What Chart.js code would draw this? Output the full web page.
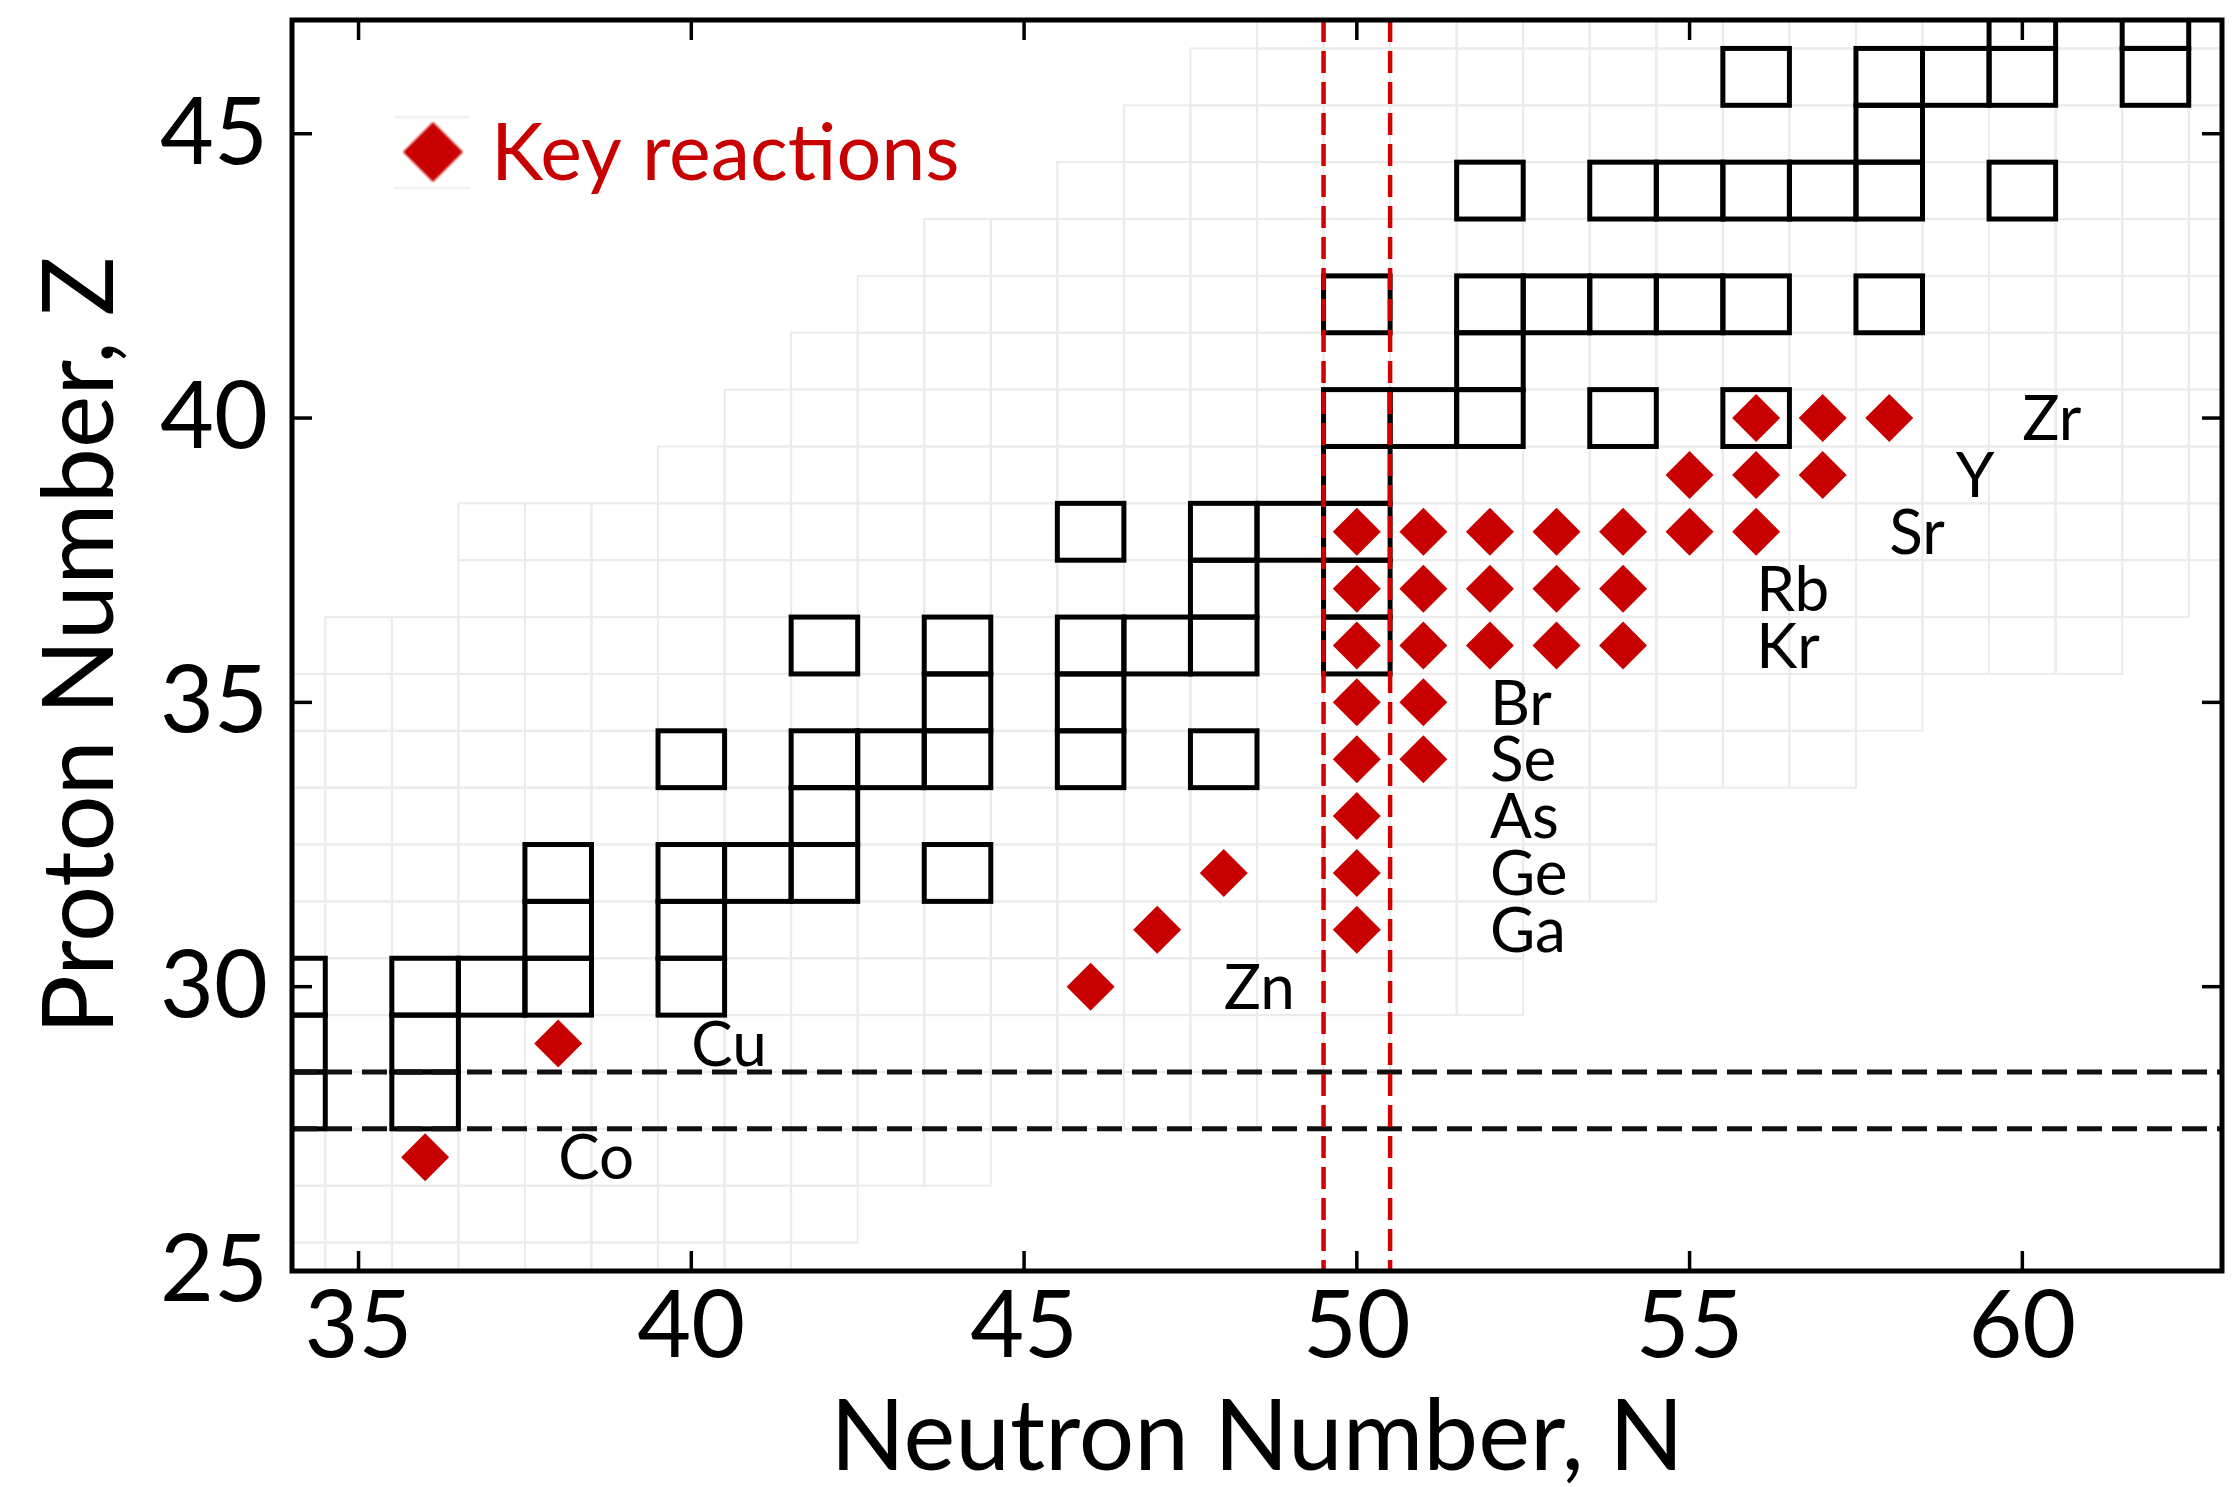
<!DOCTYPE html>
<html>
<head>
<meta charset="utf-8">
<title>Key reactions on the chart of nuclides</title>
<script src="https://cdn.jsdelivr.net/npm/chart.js@4.4.1/dist/chart.umd.min.js"></script>
<style>
  html, body { margin: 0; padding: 0; background: #fff; overflow: hidden; }
  #wrap { width: 2233px; height: 1487px; position: relative; }
  #chart { display: block; }
</style>
</head>
<body>
<div id="wrap"><canvas id="chart"></canvas></div>
<script>
// axis ticks
const xTicks = [35, 40, 45, 50, 55, 60];
const yTicks = [25, 30, 35, 40, 45];

// known nuclei (light grid), one N range per proton number
const gridZ    = [25, 26, 27, 28, 29, 30, 31, 32, 33, 34, 35, 36, 37, 38, 39, 40, 41, 42, 43, 44, 45, 46, 47];
const gridNmin = [33, 33, 33, 33, 33, 33, 33, 33, 33, 33, 33, 35, 37, 37, 40, 41, 42, 43, 44, 46, 47, 48, 49];
const gridNmax = [41, 42, 44, 48, 50, 52, 52, 54, 54, 57, 58, 61, 62, 64, 64, 64, 64, 64, 64, 64, 64, 64, 64];

// stable nuclei: neutron numbers for each proton number
const stableZ = [28, 29, 30, 31, 32, 33, 34, 35, 36, 37, 38, 39, 40, 41, 42, 44, 45, 46, 47];
const stableN = [
  [34, 36],
  [34, 36],
  [34, 36, 37, 38, 40],
  [38, 40],
  [38, 40, 41, 42, 44],
  [42],
  [40, 42, 43, 44, 46, 48],
  [44, 46],
  [42, 44, 46, 47, 48, 50],
  [48, 50],
  [46, 48, 49, 50],
  [50],
  [50, 51, 52, 54, 56],
  [52],
  [50, 52, 53, 54, 55, 56, 58],
  [52, 54, 55, 56, 57, 58, 60],
  [58],
  [56, 58, 59, 60, 62],
  [60, 62]
];

// key reactions
const keyN = [36, 38, 46, 47, 48, 50, 50, 50, 50, 51, 50, 51, 50, 51, 52, 53, 54, 50, 51, 52, 53, 54,
              50, 51, 52, 53, 54, 55, 56, 55, 56, 57, 56, 57, 58];
const keyZ = [27, 29, 30, 31, 32, 31, 32, 33, 34, 34, 35, 35, 36, 36, 36, 36, 36, 37, 37, 37, 37, 37,
              38, 38, 38, 38, 38, 38, 38, 39, 39, 39, 40, 40, 40];

// element names, placed at (N, Z)
const elements = ['Co', 'Cu', 'Zn', 'Ga', 'Ge', 'As', 'Se', 'Br', 'Kr', 'Rb', 'Sr', 'Y', 'Zr'];
const elementN = [38, 40, 48, 52, 52, 52, 52, 52, 56, 56, 58, 59, 60];
const elementZ = [27, 29, 30, 31, 32, 33, 34, 35, 36, 37, 38, 39, 40];

// closed shells
const shellZ = [27.5, 28.5];
const shellN = [49.5, 50.5];

const RED = '#c80000';
const FONT = 'Lato';

function cellRect(x, y, n, z) {
  const l = x.getPixelForValue(n - 0.5);
  const r = x.getPixelForValue(n + 0.5);
  const t = y.getPixelForValue(z + 0.5);
  const b = y.getPixelForValue(z - 0.5);
  return [l, t, r - l, b - t];
}

function line(ctx, x0, y0, x1, y1) {
  ctx.beginPath();
  ctx.moveTo(x0, y0);
  ctx.lineTo(x1, y1);
  ctx.stroke();
}

// drop the label overhang padding so the plot area follows layout.padding only
function noOverhang(s) {
  s.paddingTop = 0;
  s.paddingBottom = 0;
  s.paddingLeft = 0;
  s.paddingRight = 0;
}

const nuclidePlugin = {
  id: 'nuclides',
  beforeDatasetsDraw(chart) {
    const { ctx, chartArea: a, scales: { x, y } } = chart;
    ctx.save();
    ctx.beginPath();
    ctx.rect(a.left, a.top, a.right - a.left, a.bottom - a.top);
    ctx.clip();

    ctx.strokeStyle = '#ebebeb';
    ctx.lineWidth = 2;
    gridZ.forEach((z, i) => {
      for (let n = gridNmin[i]; n <= gridNmax[i]; n++) {
        ctx.strokeRect(...cellRect(x, y, n, z));
      }
    });

    ctx.strokeStyle = '#000';
    ctx.lineWidth = 5;
    stableZ.forEach((z, i) => {
      stableN[i].forEach(n => ctx.strokeRect(...cellRect(x, y, n, z)));
    });

    ctx.strokeStyle = '#111';
    ctx.lineWidth = 5;
    ctx.setLineDash([25, 10]);
    shellZ.forEach(z => {
      const py = y.getPixelForValue(z);
      line(ctx, a.left, py, a.right, py);
    });

    ctx.strokeStyle = '#d40000';
    ctx.lineWidth = 4.5;
    ctx.setLineDash([22, 9]);
    shellN.forEach(n => {
      const px = x.getPixelForValue(n);
      line(ctx, px, a.top, px, a.bottom);
    });
    ctx.restore();
  },
  afterDatasetsDraw(chart) {
    const { ctx, chartArea: a, scales: { x, y } } = chart;
    ctx.save();

    // element labels
    ctx.fillStyle = '#000';
    ctx.font = `62px ${FONT}`;
    ctx.textAlign = 'left';
    ctx.textBaseline = 'alphabetic';
    elements.forEach((name, i) => {
      const px = x.getPixelForValue(elementN[i]);
      const py = y.getPixelForValue(elementZ[i]);
      ctx.fillText(name, px, py + 62 * 0.358);
    });

    // legend
    const lx = a.left + 141, ly = a.top + 132;
    ctx.strokeStyle = '#f2f2f2';
    ctx.lineWidth = 3;
    line(ctx, lx - 39, ly - 35, lx + 37, ly - 35);
    line(ctx, lx - 39, ly + 36, lx + 37, ly + 36);
    ctx.filter = 'blur(1.2px)';
    ctx.fillStyle = RED;
    ctx.beginPath();
    ctx.moveTo(lx - 30, ly);
    ctx.lineTo(lx, ly - 30);
    ctx.lineTo(lx + 30, ly);
    ctx.lineTo(lx, ly + 30);
    ctx.closePath();
    ctx.fill();
    ctx.filter = 'none';
    ctx.font = `79px ${FONT}`;
    ctx.fillText('Key reactions', lx + 58, ly + 79 * 0.358);

    // frame with inward ticks on all sides
    ctx.strokeStyle = '#000';
    ctx.lineWidth = 5;
    ctx.strokeRect(a.left, a.top, a.right - a.left, a.bottom - a.top);
    ctx.lineWidth = 3.5;
    xTicks.forEach(v => {
      const px = x.getPixelForValue(v);
      line(ctx, px, a.bottom, px, a.bottom - 20);
      line(ctx, px, a.top, px, a.top + 20);
    });
    yTicks.forEach(v => {
      const py = y.getPixelForValue(v);
      line(ctx, a.left, py, a.left + 20, py);
      line(ctx, a.right, py, a.right - 20, py);
    });
    ctx.restore();
  }
};

new Chart(document.getElementById('chart'), {
  type: 'scatter',
  data: {
    datasets: [{
      label: 'Key reactions',
      data: keyN.map((n, i) => ({ x: n, y: keyZ[i] })),
      pointStyle: 'rectRot',
      pointRadius: 24,
      pointHoverRadius: 24,
      backgroundColor: RED,
      borderWidth: 0
    }]
  },
  options: {
    responsive: true,
    maintainAspectRatio: false,
    animation: false,
    events: [],
    layout: { autoPadding: false, padding: { top: 20, right: 11, left: 0, bottom: 0 } },
    plugins: {
      legend: { display: false },
      tooltip: { enabled: false }
    },
    scales: {
      x: {
        type: 'linear',
        min: 34,
        max: 63,
        afterBuildTicks: s => { s.ticks = xTicks.map(v => ({ value: v })); },
        afterFit: s => { s.height = 216; noOverhang(s); },
        grid: { display: false, drawTicks: false },
        border: { display: false },
        ticks: {
          color: '#000',
          maxRotation: 0,
          padding: 9,
          font: { family: FONT, size: 93, lineHeight: 1 }
        },
        title: {
          display: true,
          text: 'Neutron Number, N',
          color: '#000',
          font: { family: FONT, size: 98, lineHeight: 1 },
          padding: { top: 0, bottom: 0 }
        }
      },
      y: {
        type: 'linear',
        min: 25,
        max: 47,
        afterBuildTicks: s => { s.ticks = yTicks.map(v => ({ value: v })); },
        afterFit: s => { s.width = 292; noOverhang(s); },
        grid: { display: false, drawTicks: false },
        border: { display: false },
        ticks: {
          color: '#000',
          padding: 24,
          font: { family: FONT, size: 93, lineHeight: 1 }
        },
        title: {
          display: true,
          text: 'Proton Number, Z',
          color: '#000',
          font: { family: FONT, size: 99, lineHeight: 1 },
          padding: { top: 32, bottom: 0 }
        }
      }
    }
  },
  plugins: [nuclidePlugin]
});
</script>
</body>
</html>
